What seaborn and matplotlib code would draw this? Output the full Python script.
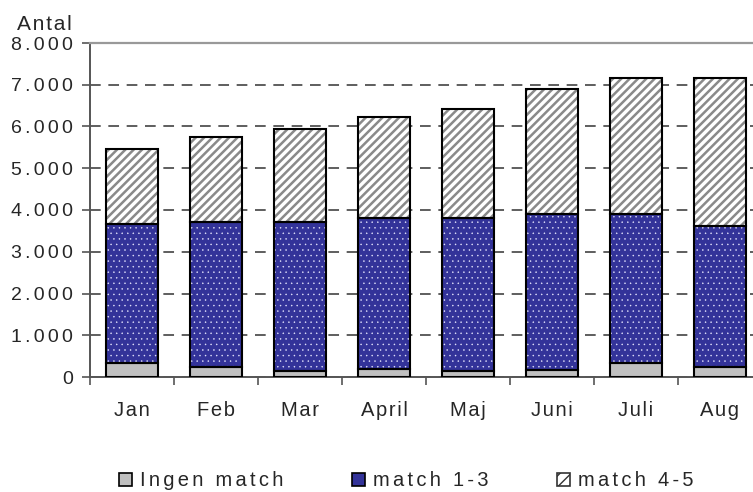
import matplotlib
matplotlib.use("Agg")
import matplotlib.pyplot as plt
from matplotlib.patches import Patch, Rectangle
from matplotlib.ticker import FixedLocator, FuncFormatter
import seaborn as sns
import pandas as pd

# Data
months = ["Jan", "Feb", "Mar", "April", "Maj", "Juni", "Juli", "Aug"]
ingen_match = [335, 240, 145, 190, 150, 175, 325, 230]
match_1_3 = [3335, 3480, 3575, 3625, 3660, 3730, 3585, 3395]
match_4_5 = [1780, 2030, 2210, 2415, 2615, 2995, 3255, 3540]
series_names = ["Ingen match", "match 1-3", "match 4-5"]

df = pd.DataFrame({"month": months, "ingen": ingen_match,
                   "m13": match_1_3, "m45": match_4_5})
df["bottom_m13"] = df["ingen"]
df["bottom_m45"] = df["ingen"] + df["m13"]


def spaced(s, gap="\u200a"):
    # the reference text is letter-spaced
    return gap.join(s)


sns.set_style("white")
plt.rcParams["font.family"] = ["Liberation Sans", "DejaVu Sans"]

fig = plt.figure(figsize=(7.53, 4.92), dpi=100)
ax = fig.add_axes([90 / 753, 1 - 377 / 492, 672 / 753, 334 / 492])

bar_w = 0.62
# (value column, bottom column, face, hatch colour, hatch, hatch lw)
layers = [
    ("ingen", None, "#c0c0c0", "#c0c0c0", None, 1.0),
    ("m13", "bottom_m13", "#333399", "#e8e8ff", "...", 0.3),
    ("m45", "bottom_m45", "white", "#8a8a8a", "////", 1.8),
]
for col, bot, face, hcol, hatch, hlw in layers:
    kw = {}
    if bot is not None:
        kw["bottom"] = df[bot].to_numpy()
    n_before = len(ax.patches)
    with plt.rc_context({"hatch.linewidth": hlw}):
        sns.barplot(data=df, x="month", y=col, order=months, color=face,
                    saturation=1, width=bar_w, errorbar=None, edgecolor=hcol,
                    linewidth=0, hatch=hatch, ax=ax, zorder=2, **kw)
    # black outline on top of each segment
    for p in list(ax.patches[n_before:]):
        ax.add_patch(Rectangle(p.get_xy(), p.get_width(), p.get_height(),
                               fill=False, edgecolor="black", linewidth=1.5,
                               zorder=3))

ax.set_xlim(-0.5, len(months) - 0.5)
ax.set_ylim(0, 8000)
ax.set_xlabel("")
ax.set_ylabel("")

ax.yaxis.set_major_locator(FixedLocator(range(0, 8001, 1000)))
ax.yaxis.set_major_formatter(
    FuncFormatter(lambda v, _: spaced(f"{v:,.0f}".replace(",", "."), "\u200a\u200a")))
ax.set_axisbelow(True)
ax.yaxis.grid(True, color="#333333", linewidth=1.1, linestyle=(0, (7, 5)))

# x ticks sit between categories
ax.set_xticks(range(len(months)))
ax.set_xticklabels([spaced(m) for m in months])
ax.xaxis.set_minor_locator(FixedLocator([i - 0.5 for i in range(len(months) + 1)]))
ax.tick_params(axis="x", which="major", length=0, pad=17, labelsize=14.5)
ax.tick_params(axis="x", which="minor", length=6, width=1.2, direction="out",
               color="#555555", bottom=True)
ax.tick_params(axis="y", length=6, width=1.2, direction="out", color="#555555",
               pad=6, labelsize=14, left=True)

ax.spines["right"].set_visible(False)
ax.spines["left"].set_color("#555555")
ax.spines["left"].set_linewidth(1.4)
ax.spines["bottom"].set_color("#555555")
ax.spines["bottom"].set_linewidth(1.4)
ax.spines["top"].set_color("#999999")
ax.spines["top"].set_linewidth(1.6)

fig.text(17 / 753, 1 - 25 / 492, spaced("Antal"), fontsize=15, va="center", ha="left")

handles = [
    Patch(facecolor="#c0c0c0", edgecolor="black", linewidth=1.2),
    Patch(facecolor="#333399", edgecolor="black", linewidth=1.2),
    Patch(facecolor="white", edgecolor="#333333", linewidth=1.2, hatch="///"),
]
fig.legend(handles, [spaced(s, "\u200a\u200a") for s in series_names], loc="center",
           bbox_to_anchor=(406 / 753, 1 - 481 / 492),
           ncol=3, frameon=False, fontsize=14.5, handlelength=0.65, handleheight=0.65,
           handletextpad=0.4, columnspacing=3.4)

fig.savefig("out.png", dpi=100)
